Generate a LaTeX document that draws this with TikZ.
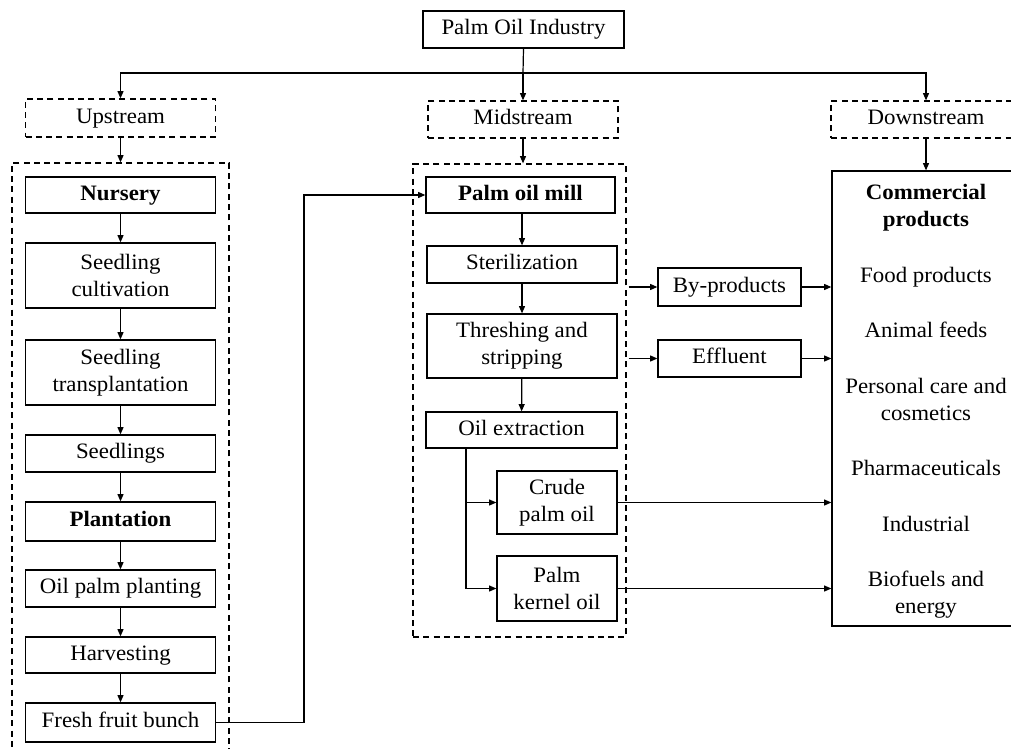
\documentclass[tikz,border=0pt]{standalone}
\usepackage{fontspec}
\setmainfont{Liberation Serif}[FakeStretch=1.04]
\usetikzlibrary{arrows.meta}
\begin{document}
\begin{tikzpicture}[x=0.75pt,y=-0.75pt,
  font=\fontsize{16.5}{20.25}\selectfont,
  every node/.style={inner sep=0pt, align=center},
  box/.style 2 args={draw, line width=0.9pt, minimum width=#1*0.75pt, minimum height=#2*0.75pt},
  dbox/.style 2 args={draw, line width=0.9pt, dash pattern=on 4.5pt off 3.2pt, minimum width=#1*0.75pt, minimum height=#2*0.75pt},
  sl/.style={text height=0.85em, text depth=0.05em},
  arr/.style={line width=0.9pt, -{Triangle[length=5.5pt,width=4.5pt]}},
  ln/.style={line width=0.9pt},
  ctext/.style={anchor=base}]
\useasboundingbox (0,0) rectangle (1011,749);
\clip (0,0) rectangle (1011,749);
% top level
\node[box={201}{37},sl] (top) at (523.5,29.5) {Palm Oil Industry};
\node[dbox={190}{38},sl] (up) at (120.5,118) {Upstream};
\node[dbox={190}{37},sl] (mid) at (523,119.5) {Midstream};
\node[dbox={190}{37},sl] (down) at (926,119.5) {Downstream};
% containers
\node[dbox={217}{600}] (upC) at (120.5,463) {};
\node[dbox={213}{473}] (midC) at (519.5,400.5) {};
\node[box={188}{455}] (comm) at (926,398.5) {};
% upstream chain
\node[box={190}{36},sl] (nurs) at (120.5,195) {\textbf{Nursery}};
\node[box={190}{65}] (scult) at (120.5,275.5) {Seedling\\cultivation};
\node[box={190}{65}] (strans) at (120.5,372.5) {Seedling\\transplantation};
\node[box={190}{37},sl] (sdl) at (120.5,453.5) {Seedlings};
\node[box={190}{39},sl] (plant) at (120.5,521.5) {\textbf{Plantation}};
\node[box={190}{37},sl] (opp) at (120.5,588.5) {Oil palm planting};
\node[box={190}{36},sl] (harv) at (120.5,655) {Harvesting};
\node[box={190}{39},sl] (ffb) at (120.5,722.5) {Fresh fruit bunch};
% midstream chain
\node[box={189}{36},sl] (mill) at (520.5,195) {\textbf{Palm oil mill}};
\node[box={190}{37},sl] (ster) at (522,264.5) {Sterilization};
\node[box={190}{64}] (thr) at (522,346) {Threshing and\\stripping};
\node[box={191}{36},sl] (oilx) at (521.5,430) {Oil extraction};
\node[box={120}{63}] (cpo) at (557,502.5) {Crude\\palm oil};
\node[box={120}{65}] (pko) at (557,588.5) {Palm\\kernel oil};
\node[box={143}{38},sl] (byp) at (729.5,287) {By-products};
\node[box={143}{37},sl] (eff) at (729.5,358.5) {Effluent};
% commercial texts
\node[ctext] (c1) at (926,199) {\textbf{Commercial}};
\node[ctext] (c2) at (926,226) {\textbf{products}};
\node[ctext] (c3) at (926,282) {Food products};
\node[ctext] (c4) at (926,337) {Animal feeds};
\node[ctext] (c5) at (926,393) {Personal care and};
\node[ctext] (c6) at (926,420) {cosmetics};
\node[ctext] (c7) at (926,475) {Pharmaceuticals};
\node[ctext] (c8) at (926,531) {Industrial};
\node[ctext] (c9) at (926,586) {Biofuels and};
\node[ctext] (c10) at (926,613) {energy};
% top connectors
\coordinate (hub) at (523,73);
\draw[ln] (top.south) -- (hub);
\draw[arr] (hub) -- (mid.north);
\draw[arr] (hub) -| (up.north);
\draw[arr] (hub) -| (down.north);
\draw[arr] (up.south) -- (up.south |- upC.north);
\draw[arr] (mid.south) -- (mid.south |- midC.north);
\draw[arr] (down.south) -- (down.south |- comm.north);
% upstream chain arrows
\draw[arr] (nurs) -- (scult);
\draw[arr] (scult) -- (strans);
\draw[arr] (strans) -- (sdl);
\draw[arr] (sdl) -- (plant);
\draw[arr] (plant) -- (opp);
\draw[arr] (opp) -- (harv);
\draw[arr] (harv) -- (ffb);
% FFB to mill
\coordinate (ffbturn) at (304,722.5);
\draw[arr] (ffb.east) -- (ffbturn) |- (mill.west);
% midstream chain arrows
\draw[arr] (ster.north |- mill.south) -- (ster.north);
\draw[arr] (ster) -- (thr);
\draw[arr] (thr) -- (oilx);
\coordinate (br) at (466,448);
\draw[arr] (br) |- (cpo.west);
\draw[arr] (br) |- (pko.west);
% side outputs
\draw[arr, shorten <=1.5pt] (midC.east |- byp.west) -- (byp.west);
\draw[arr, shorten <=1.5pt] (midC.east |- eff.west) -- (eff.west);
\draw[arr] (byp.east) -- (byp.east -| comm.west);
\draw[arr] (eff.east) -- (eff.east -| comm.west);
\draw[arr] (cpo.east) -- (cpo.east -| comm.west);
\draw[arr] (pko.east) -- (pko.east -| comm.west);
\end{tikzpicture}
\end{document}
